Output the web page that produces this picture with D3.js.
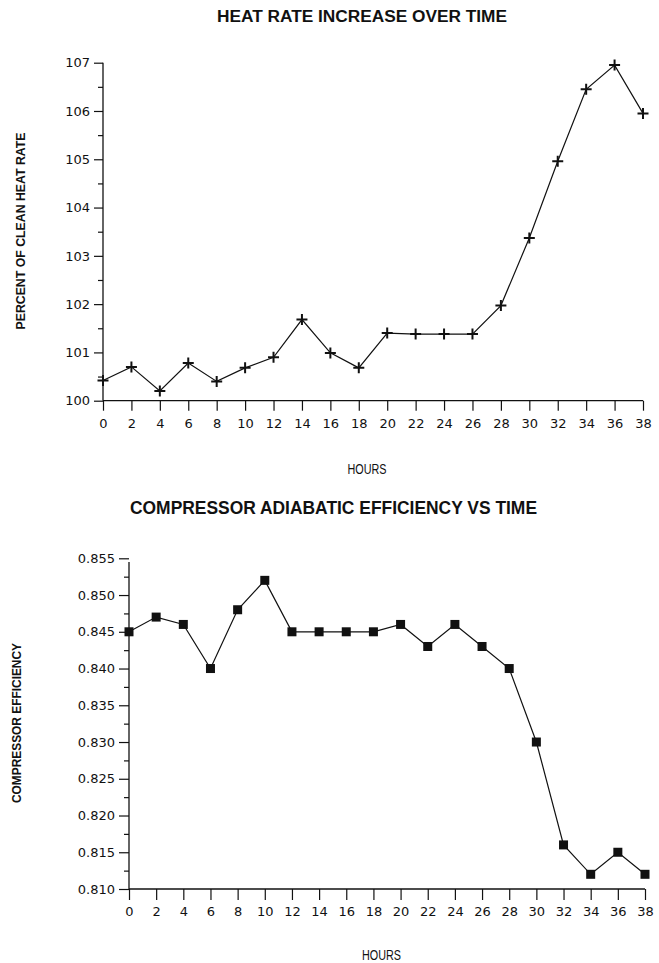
<!DOCTYPE html>
<html>
<head>
<meta charset="utf-8">
<script src="https://cdn.jsdelivr.net/npm/d3@7"></script>
<style>
  html, body { margin: 0; padding: 0; background: #fff; }
  svg { display: block; }
  text { font-family: "Liberation Sans", Arial, sans-serif; fill: #111; }
</style>
</head>
<body>
<svg id="chart" width="659" height="963"></svg>
<script>
// Operating hours sampled every two hours
const hours = [0, 2, 4, 6, 8, 10, 12, 14, 16, 18, 20, 22, 24, 26, 28, 30, 32, 34, 36, 38];

// Heat rate as percent of clean-engine heat rate
const heatRate = [100.42, 100.70, 100.20, 100.78, 100.40, 100.68, 100.90, 101.68, 100.99, 100.68,
                  101.40, 101.38, 101.38, 101.38, 101.97, 103.37, 104.96, 106.45, 106.95, 105.95];

// Compressor adiabatic efficiency
const efficiency = [0.845, 0.847, 0.846, 0.840, 0.848, 0.852, 0.845, 0.845, 0.845, 0.845,
                    0.846, 0.843, 0.846, 0.843, 0.840, 0.830, 0.816, 0.812, 0.815, 0.812];

// Axis ticks
const heatMajor = [100, 101, 102, 103, 104, 105, 106, 107];
const heatMinor = [100.5, 101.5, 102.5, 103.5, 104.5, 105.5, 106.5];
const effMajor = [0.810, 0.815, 0.820, 0.825, 0.830, 0.835, 0.840, 0.845, 0.850, 0.855];
const effMinor = [0.8125, 0.8175, 0.8225, 0.8275, 0.8325, 0.8375, 0.8425, 0.8475, 0.8525];

const titles = ["HEAT RATE INCREASE OVER TIME", "COMPRESSOR ADIABATIC EFFICIENCY VS TIME"];
const yTitles = ["PERCENT OF CLEAN HEAT RATE", "COMPRESSOR EFFICIENCY"];
const xTitle = "HOURS";

const tickFont = "'DejaVu Sans', 'Liberation Sans', sans-serif";
const svg = d3.select("#chart");

function panel(cfg) {
  const g = svg.append("g");
  const x = d3.scaleLinear().domain([0, 38]).range([cfg.x0, cfg.x1]);
  const y = d3.scaleLinear().domain(cfg.yDomain).range([cfg.yBottom, cfg.yTop]);

  // Title
  g.append("text")
    .attr("x", cfg.titleX).attr("y", cfg.titleY)
    .attr("text-anchor", "middle")
    .attr("font-size", cfg.titleSize).attr("font-weight", "bold")
    .attr("textLength", cfg.titleLen).attr("lengthAdjust", "spacingAndGlyphs")
    .text(cfg.title);

  // Y axis title (rotated)
  g.append("text")
    .attr("transform", `translate(${cfg.yTitleX},${cfg.yTitleY}) rotate(-90)`)
    .attr("text-anchor", "middle")
    .attr("font-size", cfg.yTitleSize).attr("font-weight", "bold")
    .attr("textLength", cfg.yTitleLen).attr("lengthAdjust", "spacingAndGlyphs")
    .text(cfg.yTitle);

  // X axis title
  g.append("text")
    .attr("x", cfg.xTitleX).attr("y", cfg.xTitleY)
    .attr("text-anchor", "middle")
    .attr("font-size", 14)
    .attr("textLength", 39).attr("lengthAdjust", "spacingAndGlyphs")
    .text(xTitle);

  // Y axis: major ticks with labels
  const yMajor = g.append("g")
    .attr("transform", `translate(${cfg.x0},0)`)
    .call(d3.axisLeft(y).tickValues(cfg.major).tickSize(cfg.majorTick).tickPadding(4)
      .tickFormat(cfg.fmt));
  yMajor.select(".domain").remove();
  yMajor.selectAll("text").attr("font-size", 13).attr("fill", "#111")
    .style("font-family", tickFont);
  yMajor.selectAll("line").attr("stroke", "#111").attr("stroke-width", 1.2);

  // Y axis: minor ticks
  const yMinor = g.append("g")
    .attr("transform", `translate(${cfg.x0},0)`)
    .call(d3.axisLeft(y).tickValues(cfg.minor).tickSize(5).tickFormat(""));
  yMinor.select(".domain").remove();
  yMinor.selectAll("line").attr("stroke", "#111").attr("stroke-width", 1.2);

  // X axis
  const xAxis = g.append("g")
    .attr("transform", `translate(0,${cfg.yBottom})`)
    .call(d3.axisBottom(x).tickValues(hours).tickSize(cfg.xTick).tickPadding(cfg.xPad).tickFormat(d3.format("d")));
  xAxis.select(".domain").remove();
  xAxis.selectAll("text").attr("font-size", 13).attr("fill", "#111")
    .style("font-family", tickFont);
  xAxis.selectAll("line").attr("stroke", "#111").attr("stroke-width", 1.2);

  // Axis lines
  g.append("line")
    .attr("x1", cfg.x0).attr("x2", cfg.x0)
    .attr("y1", y(cfg.axisTopValue)).attr("y2", cfg.yBottom)
    .attr("stroke", "#111").attr("stroke-width", 1.3);
  g.append("line")
    .attr("x1", cfg.x0).attr("x2", cfg.x1)
    .attr("y1", cfg.yBottom).attr("y2", cfg.yBottom)
    .attr("stroke", "#111").attr("stroke-width", 1.3);

  // Data line
  const pts = hours.map((h, i) => [h, cfg.values[i]]);
  g.append("path")
    .datum(pts)
    .attr("fill", "none").attr("stroke", "#111").attr("stroke-width", 1.2)
    .attr("d", d3.line().x(d => x(d[0])).y(d => y(d[1])));

  // Markers
  if (cfg.marker === "plus") {
    const s = 5.5;
    g.append("g").selectAll("path").data(pts).join("path")
      .attr("d", d => {
        const cx = x(d[0]), cy = y(d[1]);
        return `M${cx - s},${cy}H${cx + s}M${cx},${cy - s}V${cy + s}`;
      })
      .attr("stroke", "#111").attr("stroke-width", 2).attr("fill", "none");
  } else {
    const s = 9;
    g.append("g").selectAll("rect").data(pts).join("rect")
      .attr("x", d => x(d[0]) - s / 2).attr("y", d => y(d[1]) - s / 2)
      .attr("width", s).attr("height", s)
      .attr("fill", "#111");
  }
}

panel({
  title: titles[0], titleX: 362, titleY: 22, titleSize: 16, titleLen: 290,
  yTitle: yTitles[0], yTitleX: 25, yTitleY: 231, yTitleSize: 13, yTitleLen: 197,
  xTitleX: 367, xTitleY: 474,
  x0: 103, x1: 643, yBottom: 400.7, yTop: 62.7, yDomain: [100, 107],
  major: heatMajor, minor: heatMinor, majorTick: 9, fmt: d3.format("d"),
  axisTopValue: 107, xTick: 10, xPad: 8,
  values: heatRate, marker: "plus"
});

panel({
  title: titles[1], titleX: 333.5, titleY: 514, titleSize: 19, titleLen: 407,
  yTitle: yTitles[1], yTitleX: 21, yTitleY: 723, yTitleSize: 12, yTitleLen: 160,
  xTitleX: 381.5, xTitleY: 960,
  x0: 129, x1: 645, yBottom: 889, yTop: 558.3, yDomain: [0.810, 0.855],
  major: effMajor, minor: effMinor, majorTick: 10, fmt: d3.format(".3f"),
  axisTopValue: 0.8545, xTick: 11, xPad: 7,
  values: efficiency, marker: "square"
});
</script>
</body>
</html>
